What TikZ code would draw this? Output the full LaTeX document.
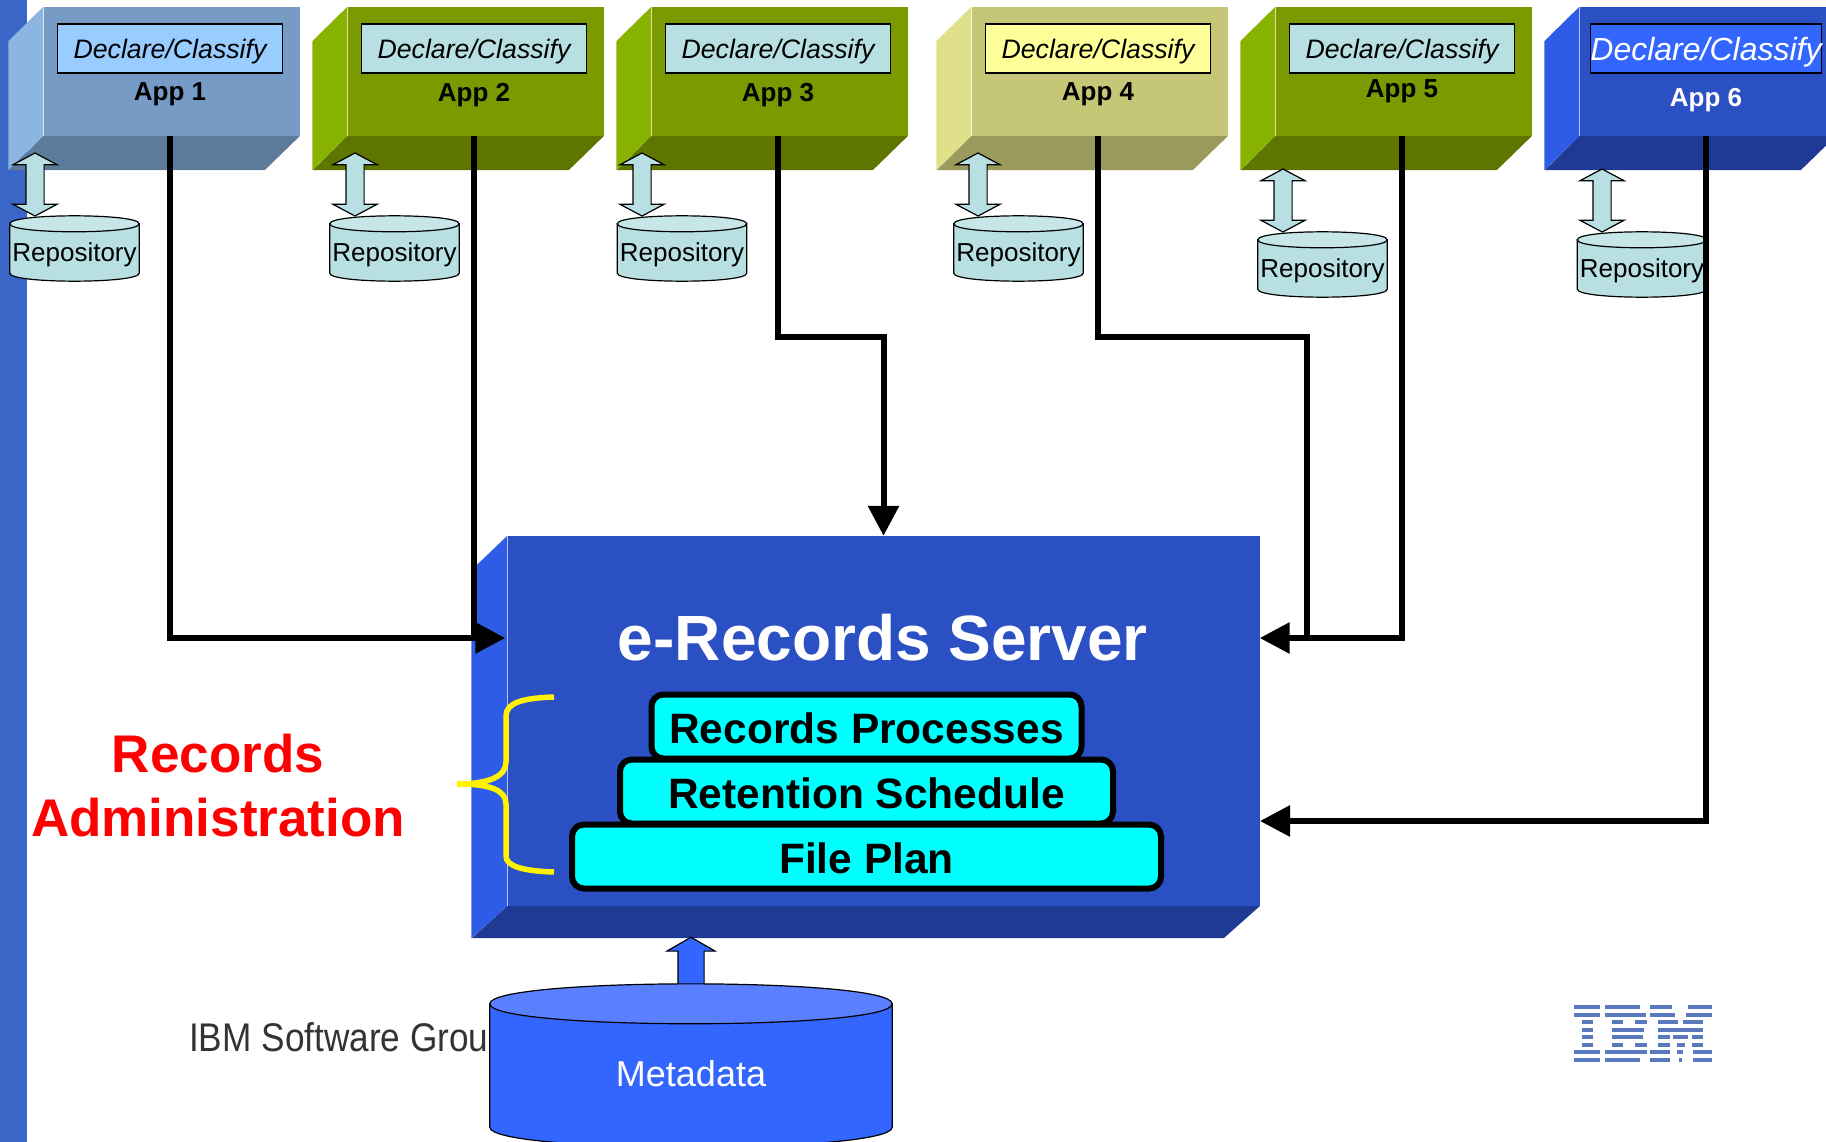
\documentclass[tikz,border=0pt]{standalone}
\usepackage{fontspec}
\setmainfont{Liberation Sans}
\newfontfamily\groupfont[FakeStretch=0.88]{Liberation Sans}
\usetikzlibrary{arrows.meta,positioning,shapes.arrows}
\definecolor{facesky}{HTML}{769CC6}
\definecolor{sidesky}{HTML}{8DB5E2}
\definecolor{basesky}{HTML}{5C7A9A}
\definecolor{chipsky}{HTML}{99CCFF}
\definecolor{facegreen}{HTML}{7A9A00}
\definecolor{sidegreen}{HTML}{88B200}
\definecolor{basegreen}{HTML}{5E7500}
\definecolor{chipgreen}{HTML}{B8E0E3}
\definecolor{facekhaki}{HTML}{C6C677}
\definecolor{sidekhaki}{HTML}{E0E08B}
\definecolor{basekhaki}{HTML}{9A9A5C}
\definecolor{chipkhaki}{HTML}{FFFF99}
\definecolor{faceroyal}{HTML}{2A50C4}
\definecolor{sideroyal}{HTML}{2F5CE6}
\definecolor{baseroyal}{HTML}{1F3A94}
\definecolor{chiproyal}{HTML}{3366FF}
\definecolor{repofill}{HTML}{B8E0E3}
\definecolor{repotop}{HTML}{C6E6E8}
\definecolor{metatop}{HTML}{5B80FF}
\definecolor{stripfill}{HTML}{3A66C8}
\definecolor{logoblue}{HTML}{5A78BE}
\definecolor{layerfill}{HTML}{00FFFF}
\colorlet{inksky}{black}
\colorlet{inkgreen}{black}
\colorlet{inkkhaki}{black}
\colorlet{inkroyal}{white}
\newcommand{\sizedfont}[1]{\fontsize{#1}{#1}\selectfont}
% node name, end radius, body colour, end colour
\newcommand{\drum}[4]{
  \draw[drumline,fill=#3] ([yshift=-#2pt]#1.north west) -- ([yshift=#2pt]#1.south west)
    .. controls +(0,#2*1.33) and +(0,#2*1.33) .. ([yshift=#2pt]#1.south east)
    -- ([yshift=-#2pt]#1.north east) -- cycle;
  \draw[drumline,fill=#4] ([yshift=-#2pt]#1.north west)
    .. controls +(0,-#2*1.33) and +(0,-#2*1.33) .. ([yshift=-#2pt]#1.north east)
    .. controls +(0,#2*1.33) and +(0,#2*1.33) .. cycle;
}
\tikzset{
  face/.style={minimum width=256pt,minimum height=129pt,inner sep=0pt},
  declare/.style={draw=black,line width=1.5pt,minimum width=225pt,minimum height=49pt,inner sep=0pt,text depth=0pt,font=\sizedfont{#1}\itshape},
  appname/.style={font=\sizedfont{26}\bfseries,inner sep=0pt,text depth=0pt},
  drumline/.style={draw=black,line width=1.2pt},
  repo/.style={minimum width=129pt,minimum height=65pt,inner sep=0pt},
  repotext/.style={font=\sizedfont{26},inner sep=0pt,text depth=0pt},
  sync/.style={double arrow,rotate=90,draw=black,line width=1.2pt,fill=repofill,minimum height=63pt,inner sep=8.5pt,
    double arrow head extend=13pt,double arrow head indent=0pt,double arrow tip angle=124},
  link/.style={draw=black,line width=6pt},
  linkin/.style={link,-{Triangle[length=30pt,width=30pt]}},
  layer/.style={draw=black,line width=6pt,fill=layerfill,rounded corners=12pt,minimum height=64pt,inner sep=0pt,text height=34pt,text depth=0pt,font=\sizedfont{42.5}\bfseries},
}

\begin{document}
\begin{tikzpicture}[x=1pt,y=-1pt,node distance=65pt,on grid]
\useasboundingbox (0,0) rectangle (1826,1142);
\fill[stripfill] (0,0) rectangle (26.5,1142);

\foreach \n/\tint/\chipsize/\appx/\namey/\repox/\syncx/\repoy in {
  1/sky/26.7/170/92/74.5/35/248.5,
  2/green/26.7/474/92/394.5/355/248.5,
  3/green/26.7/778/92/682/642/248.5,
  4/khaki/26.7/1098/92/1018.5/978/248.5,
  5/green/26.7/1402/89/1322.5/1283/264.5,
  6/royal/32/1706/97/1642/1602/264.5}{
  \node[face,fill=face\tint] (app_\n) at (\appx+1.5,71.5) {};
  \fill[side\tint] (app_\n.north west) -- (app_\n.south west) -- ++(-35,34) -- ++(0,-129) -- cycle;
  \fill[base\tint] (app_\n.south west) -- (app_\n.south east) -- ++(-35,34) -- ++(-256,0) -- cycle;
  \node[declare=\chipsize,fill=chip\tint,text=ink\tint] (decl_\n) at (\appx,48.5) {Declare/Classify};
  \node[appname,text=ink\tint] (name_\n) at (\appx,\namey) {App \n};
  \node[repo] (repo_\n) at (\repox,\repoy) {};
  \drum{repo_\n}{8}{repofill}{repotop}
  \node[repotext] (repolabel_\n) at (\repox,\repoy+3.5) {Repository};
  \node[sync] (sync_\n) at (\syncx,\repoy-64) {};
}

% server box
\node[minimum width=752pt,minimum height=370pt,inner sep=0pt,fill=faceroyal] (server) at (883.5,721) {};
\fill[sideroyal] (server.north west) -- (server.south west) -- ++(-36,32) -- ++(0,-368) -- cycle;
\fill[baseroyal] (server.south west) -- (server.south east) -- ++(-36,32) -- ++(-752,0) -- cycle;
\node[text=white,font=\sizedfont{64}\bfseries,inner sep=0pt] (title) at (883,638) {e-Records Server};

\node[layer,minimum width=589pt] (plan) at (866.5,856.5) {File Plan};
\node[layer,minimum width=493pt,above=of plan] (retention) {Retention Schedule};
\node[layer,minimum width=430pt,above=of retention] (processes) {Records Processes};

% yellow brace
\draw[yellow,line width=5.5pt] (554,697) .. controls (522,698) and (506,703) .. (506,716)
  -- (506,762) .. controls (506,776) and (490,784) .. (457,784)
  .. controls (490,784) and (506,790) .. (506,804)
  -- (506,856) .. controls (506,866) and (522,871) .. (554,872);
\node[red,align=center,font=\fontsize{53}{64}\selectfont\bfseries,inner sep=0pt] (admin) at (218,786) {Records\\Administration};

% links to the server
\coordinate (bus_3) at (883.5,337);
\coordinate (bus_4) at (1307,337);
\coordinate (in_6) at (1260,821);
\draw[link] (decl_2 |- app_2.south) -- (decl_2 |- title);
\draw[linkin,shorten >=2pt] (decl_1 |- app_1.south) |- (server.west |- title);
\draw[linkin] (decl_3 |- app_3.south) |- (bus_3) -- (server.north);
\draw[link] (decl_4 |- app_4.south) |- (bus_4) -- (bus_4 |- title);
\draw[linkin] (decl_5 |- app_5.south) |- (server.east |- title);
\draw[linkin] (decl_6 |- app_6.south) |- (in_6);

% footer and metadata
\node[anchor=west,text=black!80,font=\groupfont\sizedfont{40},inner sep=0pt] (group) at (189,1041) {IBM Software Group};
\foreach \row/\segs in {
  1007/{1574/1600,1605/1640,1650/1672,1688/1712},
  1015/{1574/1600,1605/1646,1650/1675,1686/1712},
  1022/{1582/1593,1612/1623,1635/1647,1658/1678,1683/1703},
  1030/{1582/1593,1612/1644,1658/1703},
  1037/{1582/1593,1612/1643,1658/1670,1673/1688,1692/1703},
  1045/{1582/1593,1612/1623,1635/1647,1658/1670,1677/1685,1692/1703},
  1052/{1574/1600,1605/1647,1650/1670,1677/1683,1693/1712},
  1060/{1574/1600,1605/1640,1650/1670,1679/1682,1693/1712}}{
  \foreach \from/\to in \segs
    \draw[logoblue,line width=4pt] (\from,\row) -- (\to,\row);
}
\node[single arrow,rotate=90,draw=black,line width=1.2pt,fill=chiproyal,minimum height=48pt,inner sep=12.5pt,
  single arrow head extend=11pt,single arrow head indent=0pt,single arrow tip angle=120] (meta_up) at (691,965) {};
\node[minimum width=402pt,minimum height=163pt,inner sep=0pt] (metadata) at (691,1065.5) {};
\drum{metadata}{20}{chiproyal}{metatop}
\node[text=white,font=\sizedfont{36},inner sep=0pt] (metalabel) at (691,1074) {Metadata};
\end{tikzpicture}
\end{document}
